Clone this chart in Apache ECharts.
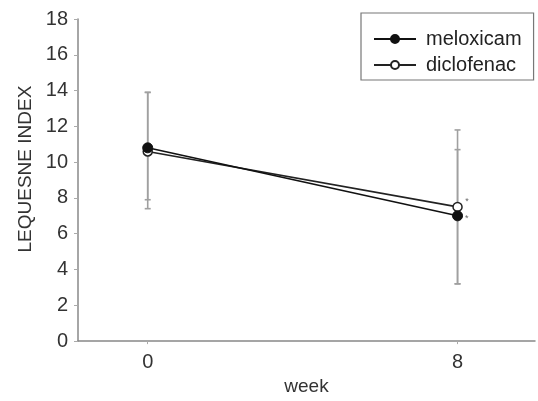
<!DOCTYPE html>
<html><head><meta charset="utf-8">
<script src="https://cdn.jsdelivr.net/npm/echarts@6/dist/echarts.min.js"></script>
<style>html,body{margin:0;padding:0;background:#fff}#c{width:538px;height:401px}</style>
</head><body><div id="c"></div>
<script>
const weeks = [0, 8];
const meloxicamMean = [10.8, 7.0];
const meloxicamLow = [7.9, 3.2];
const meloxicamHigh = [13.9, 10.7];
const diclofenacMean = [10.6, 7.5];
const diclofenacLow = [7.4, 3.2];
const diclofenacHigh = [13.9, 11.8];
const yTicks = [0, 2, 4, 6, 8, 10, 12, 14, 16, 18];
const xTicks = [0, 8];

const font = 'Liberation Sans, Arial, sans-serif';
function errData(low, high) { return weeks.map((w, i) => [w, low[i], high[i]]); }
function errRender(params, api) {
  const x = api.value(0);
  const lo = api.coord([x, api.value(1)]);
  const hi = api.coord([x, api.value(2)]);
  const cap = 3;
  const style = { stroke: '#a0a0a0', lineWidth: 1.6 };
  return { type: 'group', children: [
    { type: 'line', shape: { x1: lo[0], y1: lo[1], x2: hi[0], y2: hi[1] }, style },
    { type: 'line', shape: { x1: lo[0] - cap, y1: lo[1], x2: lo[0] + cap, y2: lo[1] }, style },
    { type: 'line', shape: { x1: hi[0] - cap, y1: hi[1], x2: hi[0] + cap, y2: hi[1] }, style }
  ]};
}
const chart = echarts.init(document.getElementById('c'));
chart.setOption({
  animation: false,
  backgroundColor: '#fff',
  grid: { left: 78, right: 3, top: 19, bottom: 58, containLabel: false },
  legend: {
    data: ['meloxicam', 'diclofenac'],
    orient: 'vertical', left: 361, top: 13,
    padding: [16, 12, 5, 12], itemGap: 6, itemWidth: 42, itemHeight: 10,
    borderColor: '#777', borderWidth: 1.2,
    textStyle: { fontFamily: font, fontSize: 20, color: '#222', padding: [0, 0, 0, 5] }
  },
  xAxis: {
    type: 'value', min: -1.8, max: 10,
    name: 'week', nameLocation: 'middle', nameGap: 33,
    nameTextStyle: { fontFamily: font, fontSize: 19, color: '#333' },
    axisLine: { onZero: false, lineStyle: { color: '#888', width: 1.5 } },
    axisTick: { show: true, length: 3, customValues: xTicks, lineStyle: { color: '#aaa' } },
    axisLabel: { customValues: xTicks, fontFamily: font, fontSize: 20, color: '#333', margin: 11 },
    splitLine: { show: false }
  },
  yAxis: {
    type: 'value', min: 0, max: 18, interval: 2,
    name: 'LEQUESNE INDEX', nameLocation: 'middle', nameGap: 43,
    nameTextStyle: { fontFamily: font, fontSize: 19, color: '#333', padding: [0, 0, 0, 22] },
    axisLine: { show: true, onZero: false, lineStyle: { color: '#888', width: 1.5 } },
    axisTick: { show: true, length: 4, lineStyle: { color: '#aaa' } },
    axisLabel: { fontFamily: font, fontSize: 20, color: '#333', margin: 10,
      formatter: v => yTicks.includes(v) ? String(v) : '' },
    splitLine: { show: false }
  },
  series: [
    { type: 'custom', name: 'err-m', renderItem: errRender, data: errData(meloxicamLow, meloxicamHigh), z: 1, silent: true },
    { type: 'custom', name: 'err-d', renderItem: errRender, data: errData(diclofenacLow, diclofenacHigh), z: 1, silent: true },
    { type: 'line', name: 'diclofenac', data: weeks.map((w, i) => [w, diclofenacMean[i]]),
      symbol: 'circle', symbolSize: 9, z: 3,
      lineStyle: { color: '#222', width: 1.6 },
      itemStyle: { color: '#fff', borderColor: '#222', borderWidth: 1.5 },
      label: { show: true, position: [13, -5], fontSize: 9, color: '#666',
        formatter: p => p.dataIndex === 1 ? '*' : '' } },
    { type: 'line', name: 'meloxicam', data: weeks.map((w, i) => [w, meloxicamMean[i]]),
      symbol: 'circle', symbolSize: 10, z: 4,
      lineStyle: { color: '#111', width: 1.6 },
      itemStyle: { color: '#111', borderColor: '#111', borderWidth: 1 },
      label: { show: true, position: [13, 4], fontSize: 9, color: '#666',
        formatter: p => p.dataIndex === 1 ? '*' : '' } }
  ]
});
</script></body></html>
